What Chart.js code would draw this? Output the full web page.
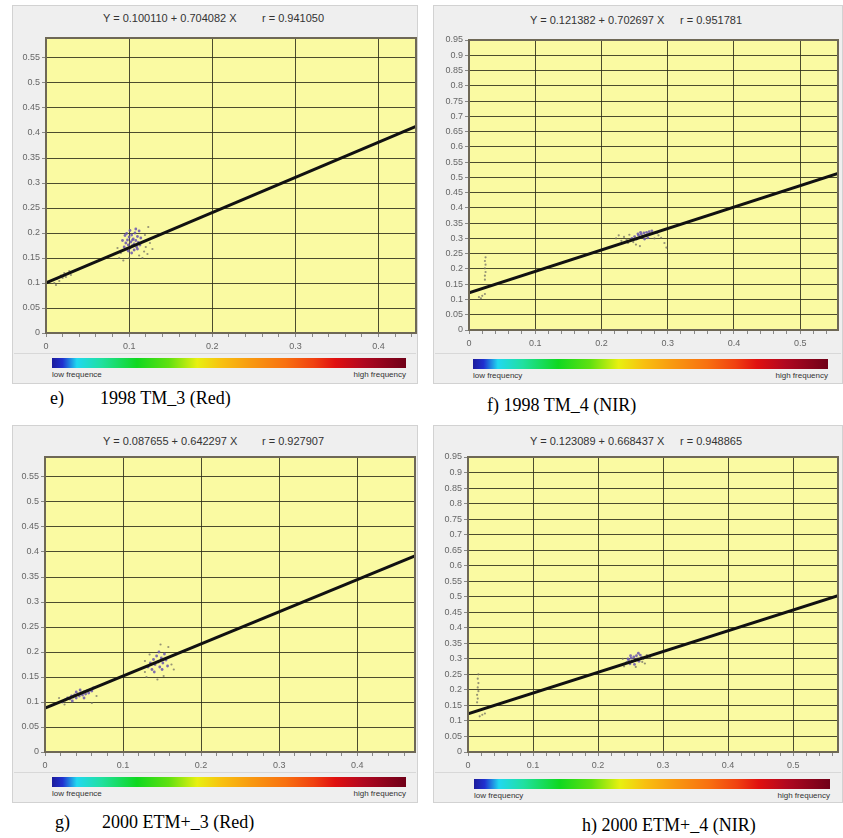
<!DOCTYPE html>
<html><head><meta charset="utf-8">
<script src="https://cdn.jsdelivr.net/npm/chart.js@4.4.0/dist/chart.umd.min.js"></script>
<style>
body{margin:0;background:#fff;width:843px;height:838px;position:relative;overflow:hidden;font-family:"Liberation Sans",Arial,sans-serif;}
.panel{position:absolute;background:#efefef;border:1px solid #d2d2d2;box-sizing:border-box;}
.sep{position:absolute;height:1px;background:#d8d8d8;}
.title{position:absolute;font-size:11px;color:#333;white-space:pre;line-height:13px;}
.cbar{position:absolute;height:10px;background:linear-gradient(to right,#1c1c9c 0%,#2030d0 3%,#20d8f0 7%,#20e0a0 14%,#10d820 24%,#60e010 33%,#e8f010 41%,#f8c010 48%,#f89a10 56%,#f87010 66%,#f04010 74%,#e01010 80%,#b00820 88%,#700018 100%);}
.clab{position:absolute;font-size:8px;color:#333;line-height:10px;white-space:pre;}
.cap{position:absolute;font-family:"Liberation Serif","Times New Roman",serif;font-size:18px;color:#000;white-space:pre;line-height:20px;}
canvas{position:absolute;}
</style></head>
<body>
<script>
// ---------- data ----------
const redXTicks = [0, 0.1, 0.2, 0.3, 0.4];
const nirXTicks = [0, 0.1, 0.2, 0.3, 0.4, 0.5];
const redYTicks = [0, 0.05, 0.1, 0.15, 0.2, 0.25, 0.3, 0.35, 0.4, 0.45, 0.5, 0.55];
const nirYTicks = [0, 0.05, 0.1, 0.15, 0.2, 0.25, 0.3, 0.35, 0.4, 0.45, 0.5, 0.55, 0.6, 0.65, 0.7, 0.75, 0.8, 0.85, 0.9, 0.95];

const titlesEq = ["Y = 0.100110 + 0.704082 X", "Y = 0.121382 + 0.702697 X", "Y = 0.087655 + 0.642297 X", "Y = 0.123089 + 0.668437 X"];
const titlesR  = ["r = 0.941050", "r = 0.951781", "r = 0.927907", "r = 0.948865"];
const captions = ["e)", "1998 TM_3 (Red)", "f) 1998 TM_4 (NIR)", "g)", "2000 ETM+_3 (Red)", "h) 2000 ETM+_4 (NIR)"];
const lowLabels = ["low frequence", "low frequency", "low frequence", "low frequency"];
const highLabel = "high frequency";

// regression line end points
const lineE = [[0, 0.1001], [0.445, 0.4134]];
const lineF = [[0, 0.1214], [0.557, 0.5128]];
const lineG = [[0, 0.0877], [0.474, 0.3921]];
const lineH = [[0, 0.1231], [0.569, 0.5034]];

// scatter points
const denseE = [[0.094,0.172],[0.096,0.180],[0.097,0.168],[0.098,0.186],[0.099,0.176],[0.100,0.192],[0.101,0.170],[0.102,0.182],[0.103,0.196],[0.104,0.175],[0.105,0.188],[0.106,0.178],[0.107,0.200],[0.108,0.185],[0.109,0.172],[0.110,0.193],[0.111,0.181],[0.112,0.204],[0.113,0.176],[0.114,0.190],[0.097,0.199],[0.099,0.164],[0.103,0.160],[0.106,0.166],[0.110,0.168],[0.092,0.185],[0.095,0.195],[0.101,0.205],[0.108,0.208],[0.104,0.186]];
const sparseE = [[0.088,0.150],[0.090,0.160],[0.093,0.145],[0.118,0.163],[0.120,0.172],[0.122,0.158],[0.125,0.180],[0.116,0.150],[0.119,0.196],[0.123,0.212],[0.100,0.150],[0.112,0.155],[0.086,0.170],[0.128,0.168],[0.010,0.100],[0.013,0.108],[0.016,0.104],[0.018,0.115],[0.020,0.110],[0.022,0.120],[0.024,0.112],[0.026,0.118],[0.028,0.124],[0.012,0.096],[0.030,0.116]];
const denseF = [[0.246,0.300],[0.250,0.306],[0.253,0.298],[0.256,0.310],[0.258,0.303],[0.260,0.314],[0.262,0.307],[0.264,0.318],[0.266,0.309],[0.268,0.320],[0.270,0.312],[0.272,0.322],[0.274,0.315],[0.276,0.325],[0.259,0.320],[0.265,0.298],[0.255,0.315],[0.270,0.302]];
const sparseF = [[0.222,0.300],[0.226,0.310],[0.230,0.292],[0.234,0.305],[0.238,0.296],[0.242,0.312],[0.248,0.288],[0.252,0.280],[0.258,0.275],[0.280,0.300],[0.286,0.310],[0.290,0.302],[0.295,0.285],[0.298,0.270],[0.284,0.318],[0.240,0.285],[0.024,0.165],[0.024,0.178],[0.025,0.190],[0.024,0.202],[0.025,0.214],[0.024,0.226],[0.025,0.238],[0.015,0.108],[0.020,0.112],[0.024,0.118],[0.018,0.104]];
const denseG = [[0.022,0.100],[0.026,0.104],[0.029,0.108],[0.032,0.106],[0.034,0.112],[0.036,0.110],[0.038,0.114],[0.040,0.108],[0.042,0.116],[0.044,0.112],[0.046,0.118],[0.048,0.114],[0.050,0.120],[0.052,0.116],[0.054,0.122],[0.056,0.118],[0.058,0.124],[0.060,0.122],[0.062,0.128],[0.040,0.120],[0.035,0.102],[0.050,0.108],[0.045,0.124],[0.132,0.170],[0.135,0.178],[0.137,0.165],[0.139,0.185],[0.141,0.175],[0.143,0.192],[0.145,0.180],[0.147,0.170],[0.149,0.188],[0.151,0.178],[0.153,0.196],[0.155,0.184],[0.157,0.172],[0.140,0.160],[0.146,0.200],[0.150,0.165]];
const sparseG = [[0.025,0.095],[0.060,0.098],[0.066,0.112],[0.018,0.108],[0.128,0.160],[0.130,0.150],[0.134,0.195],[0.160,0.190],[0.162,0.175],[0.158,0.210],[0.144,0.145],[0.152,0.152],[0.165,0.165],[0.128,0.182],[0.148,0.215]];
const denseH = [[0.244,0.288],[0.247,0.296],[0.249,0.284],[0.251,0.302],[0.253,0.292],[0.255,0.306],[0.257,0.296],[0.259,0.310],[0.261,0.300],[0.263,0.292],[0.265,0.312],[0.267,0.304],[0.250,0.310],[0.256,0.282],[0.262,0.318],[0.246,0.300]];
const sparseH = [[0.240,0.276],[0.270,0.300],[0.275,0.312],[0.280,0.305],[0.286,0.315],[0.238,0.300],[0.258,0.274],[0.268,0.290],[0.272,0.285],[0.014,0.160],[0.015,0.172],[0.014,0.184],[0.016,0.196],[0.015,0.208],[0.016,0.222],[0.015,0.236],[0.016,0.250],[0.018,0.115],[0.022,0.120],[0.026,0.124]];

// ---------- layout / drawing ----------
const FONT = "'Liberation Sans', Arial, sans-serif";
const GRID = 'rgba(45,45,25,0.85)';
const pts = a => a.map(p => ({x: p[0], y: p[1]}));
const fmt = v => String(+(+v).toFixed(2));
const near = (arr, v) => arr.some(m => Math.abs(m - v) < 1e-6);

function el(cls, css, text) {
  const d = document.createElement('div');
  d.className = cls;
  Object.assign(d.style, css);
  if (text !== undefined) d.textContent = text;
  document.body.appendChild(d);
  return d;
}

const framePlugin = {
  id: 'frame',
  beforeDraw(chart) {
    const a = chart.chartArea, c = chart.ctx;
    c.save(); c.fillStyle = '#fafaa2'; c.fillRect(a.left, a.top, a.right - a.left, a.bottom - a.top); c.restore();
  },
  afterDraw(chart) {
    const a = chart.chartArea, c = chart.ctx;
    c.save(); c.strokeStyle = '#6e6856'; c.lineWidth = 2;
    c.strokeRect(a.left, a.top, a.right - a.left, a.bottom - a.top); c.restore();
  }
};

function makePanel(box, xmax, ymax, xMajor, yMajor, line, dense, sparse) {
  const [L, T, R, B] = box;
  const W = R - L + 44, H = B - T + 36;
  const cv = document.createElement('canvas');
  cv.width = W; cv.height = H;
  Object.assign(cv.style, {left: (L - 40) + 'px', top: (T - 10) + 'px', width: W + 'px', height: H + 'px'});
  document.body.appendChild(cv);
  new Chart(cv, {
    type: 'scatter',
    data: {datasets: [
      {type: 'line', data: pts(line), borderColor: '#111', borderWidth: 3, pointRadius: 0, order: 0, tension: 0},
      {data: pts(dense), backgroundColor: 'rgba(105,85,175,0.85)', pointRadius: 1.4, borderWidth: 0, order: 1},
      {data: pts(sparse), backgroundColor: 'rgba(115,112,100,0.75)', pointRadius: 1.1, borderWidth: 0, order: 2}
    ]},
    options: {
      responsive: false, animation: false, devicePixelRatio: 1,
      layout: {padding: {left: 0, top: 10, right: 4, bottom: 0}},
      plugins: {legend: {display: false}, tooltip: {enabled: false}},
      scales: {
        x: {
          type: 'linear', min: 0, max: xmax,
          afterFit: s => { s.height = 26; },
          afterBuildTicks: s => { const t = []; for (let i = 0; i * 0.02 <= xmax + 1e-9; i++) t.push({value: +(i * 0.02).toFixed(2)}); s.ticks = t; },
          ticks: {autoSkip: false, maxRotation: 0, font: {size: 9, family: FONT}, color: '#666', padding: 4,
                  callback: v => near(xMajor, v) ? fmt(v) : ''},
          grid: {color: c => (c.tick && near(xMajor, c.tick.value)) ? GRID : 'rgba(0,0,0,0)', tickColor: '#888', tickLength: 4, lineWidth: 1},
          border: {display: false}
        },
        y: {
          type: 'linear', min: 0, max: ymax,
          afterFit: s => { s.width = 40; },
          afterBuildTicks: s => { s.ticks = yMajor.map(v => ({value: v})); },
          ticks: {font: {size: 9, family: FONT}, color: '#666', padding: 2, callback: v => fmt(v)},
          grid: {color: GRID, tickColor: '#888', tickLength: 4, lineWidth: 1},
          border: {display: false}
        }
      }
    },
    plugins: [framePlugin]
  });
}

function panelDecor(i, px, py, pw, ph, tx, rx, ty, sepY, cbX, cbW, cbY) {
  el('panel', {left: px + 'px', top: py + 'px', width: pw + 'px', height: ph + 'px'});
  el('sep', {left: (px + 2) + 'px', top: sepY + 'px', width: (pw - 4) + 'px'});
  el('title', {left: tx + 'px', top: ty + 'px'}, titlesEq[i]);
  el('title', {left: rx + 'px', top: ty + 'px'}, titlesR[i]);
  el('cbar', {left: cbX + 'px', top: cbY + 'px', width: cbW + 'px'});
  el('clab', {left: cbX + 'px', top: (cbY + 12) + 'px'}, lowLabels[i]);
  el('clab', {left: cbX + 'px', top: (cbY + 12) + 'px', width: cbW + 'px', textAlign: 'right'}, highLabel);
}

panelDecor(0, 12, 5, 406, 379, 103, 262, 12, 353, 52, 354, 358);
panelDecor(1, 433, 5, 410, 379, 530, 680, 14, 353, 473, 355, 359);
panelDecor(2, 12, 425, 406, 378, 103, 262, 435, 772, 52, 354, 777);
panelDecor(3, 433, 425, 410, 378, 530, 680, 435, 772, 474, 356, 779);

makePanel([46, 38, 416, 333], 0.445, 0.59, redXTicks, redYTicks, lineE, denseE, sparseE);
makePanel([469, 40, 838, 330], 0.557, 0.95, nirXTicks, nirYTicks, lineF, denseF, sparseF);
makePanel([45, 457, 415, 752], 0.474, 0.59, redXTicks, redYTicks, lineG, denseG, sparseG);
makePanel([468, 457, 838, 752], 0.569, 0.95, nirXTicks, nirYTicks, lineH, denseH, sparseH);

el('cap', {left: '50px', top: '388px'}, captions[0]);
el('cap', {left: '100px', top: '388px'}, captions[1]);
el('cap', {left: '487px', top: '395px'}, captions[2]);
el('cap', {left: '55px', top: '812px'}, captions[3]);
el('cap', {left: '102px', top: '812px'}, captions[4]);
el('cap', {left: '582px', top: '815px'}, captions[5]);
</script>
</body></html>
